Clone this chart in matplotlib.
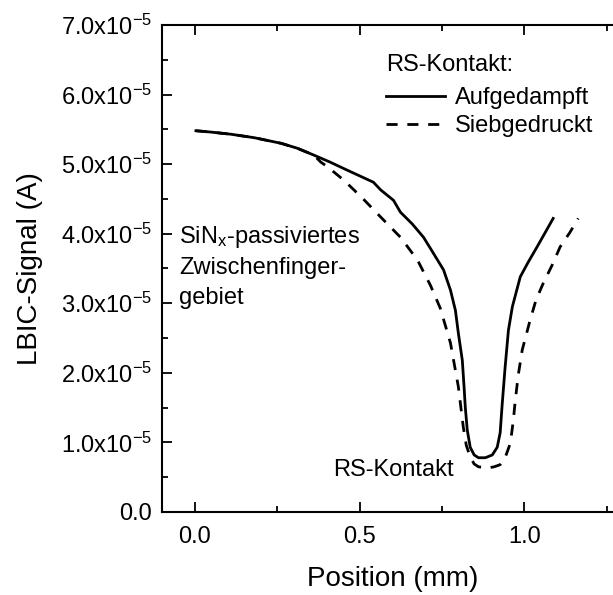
import matplotlib
matplotlib.use("Agg")
import matplotlib.pyplot as plt
from matplotlib.ticker import FuncFormatter, MultipleLocator

plt.rcParams['font.family'] = ['Liberation Sans', 'DejaVu Sans']
plt.rcParams['mathtext.fontset'] = 'custom'
plt.rcParams['mathtext.rm'] = 'Liberation Sans'
plt.rcParams['mathtext.it'] = 'Liberation Sans:italic'

# LBIC line scans across the rear contact (position in mm, signal in 1e-5 A)
pos_aufgedampft = [0.003, 0.05, 0.109, 0.18, 0.261, 0.31, 0.361, 0.41, 0.464, 0.542,
                   0.564, 0.603, 0.624, 0.66, 0.694, 0.715, 0.755, 0.776, 0.791,
                   0.800, 0.812, 0.818, 0.821, 0.827, 0.836, 0.848, 0.861, 0.882,
                   0.903, 0.918, 0.927, 0.933, 0.942, 0.952, 0.964, 0.988, 1.012,
                   1.039, 1.088]
sig_aufgedampft = [5.48, 5.46, 5.43, 5.38, 5.30, 5.23, 5.13, 5.03, 4.91, 4.74,
                   4.63, 4.48, 4.31, 4.14, 3.95, 3.79, 3.48, 3.19, 2.90,
                   2.57, 2.18, 1.75, 1.51, 1.18, 0.93, 0.82, 0.78, 0.78,
                   0.82, 0.93, 1.14, 1.54, 2.08, 2.61, 2.95, 3.38, 3.59,
                   3.81, 4.22]

pos_siebgedruckt = [0.003, 0.05, 0.109, 0.18, 0.261, 0.31, 0.361, 0.382, 0.403,
                    0.452, 0.509, 0.564, 0.624, 0.676, 0.715, 0.745, 0.776, 0.800,
                    0.815, 0.824, 0.836, 0.848, 0.861, 0.888, 0.909, 0.927, 0.942,
                    0.958, 0.967, 0.973, 0.982, 0.994, 1.018, 1.036, 1.058, 1.085,
                    1.109, 1.139, 1.164]
sig_siebgedruckt = [5.48, 5.46, 5.43, 5.38, 5.30, 5.23, 5.13, 5.03, 4.96,
                    4.77, 4.51, 4.24, 3.95, 3.62, 3.26, 2.93, 2.43, 1.80,
                    1.22, 0.96, 0.79, 0.69, 0.65, 0.63, 0.65, 0.68, 0.78,
                    0.99, 1.32, 1.61, 1.97, 2.33, 2.76, 3.05, 3.29, 3.55,
                    3.81, 4.02, 4.22]

scale = 1e-5
note_lines = [r'SiN$_\mathregular{x}$-passiviertes', 'Zwischenfinger-', 'gebiet']

fig = plt.figure(figsize=(6.13, 5.95), dpi=100)
ax = fig.add_axes([0.2643, 0.1395, 0.752, 0.8185])

ax.plot(pos_aufgedampft, [v * scale for v in sig_aufgedampft],
        color='black', lw=2.0, label='Aufgedampft')
ax.plot(pos_siebgedruckt, [v * scale for v in sig_siebgedruckt],
        color='black', lw=2.0, dashes=(4, 3.5), label='Siebgedruckt')

ax.set_xlim(-0.1, 1.3)
ax.set_ylim(0, 7e-5)
ax.xaxis.set_major_locator(MultipleLocator(0.5))
ax.xaxis.set_minor_locator(MultipleLocator(0.25))
ax.yaxis.set_major_locator(MultipleLocator(1e-5))
ax.yaxis.set_minor_locator(MultipleLocator(0.5e-5))


def sci_fmt(v, _):
    if abs(v) < 1e-12:
        return '0.0'
    return r'%.1fx10$^{\mathregular{-5}}$' % (v / scale)


ax.yaxis.set_major_formatter(FuncFormatter(sci_fmt))
ax.xaxis.set_major_formatter(FuncFormatter(lambda v, _: '%.1f' % v))

ax.tick_params(which='both', direction='in', top=True, right=False, width=1.3)
ax.tick_params(which='major', length=7, labelsize=17, pad=7)
ax.tick_params(axis='x', which='major', pad=10)
ax.tick_params(which='minor', length=4)
for s in ax.spines.values():
    s.set_linewidth(1.5)

ax.set_xlabel('Position (mm)', fontsize=20, labelpad=13)
ax.set_ylabel('LBIC-Signal (A)', fontsize=20, labelpad=13)

for i, line in enumerate(note_lines):
    ax.text(-0.048, 3.865e-5 - i * 0.44e-5, line, fontsize=17, va='baseline')
ax.text(0.421, 0.52e-5, 'RS-Kontakt', fontsize=17, va='baseline')

leg = ax.legend(title='RS-Kontakt:', loc='upper left', frameon=False,
                bbox_to_anchor=(386 / 613, 1 - 54 / 595), bbox_transform=fig.transFigure,
                borderaxespad=0, borderpad=0, fontsize=17, title_fontsize=17,
                handlelength=2.5, handletextpad=0.4, labelspacing=0.25,
                alignment='left')
leg._legend_box.sep = 8

fig.savefig('out.png', dpi=100)
